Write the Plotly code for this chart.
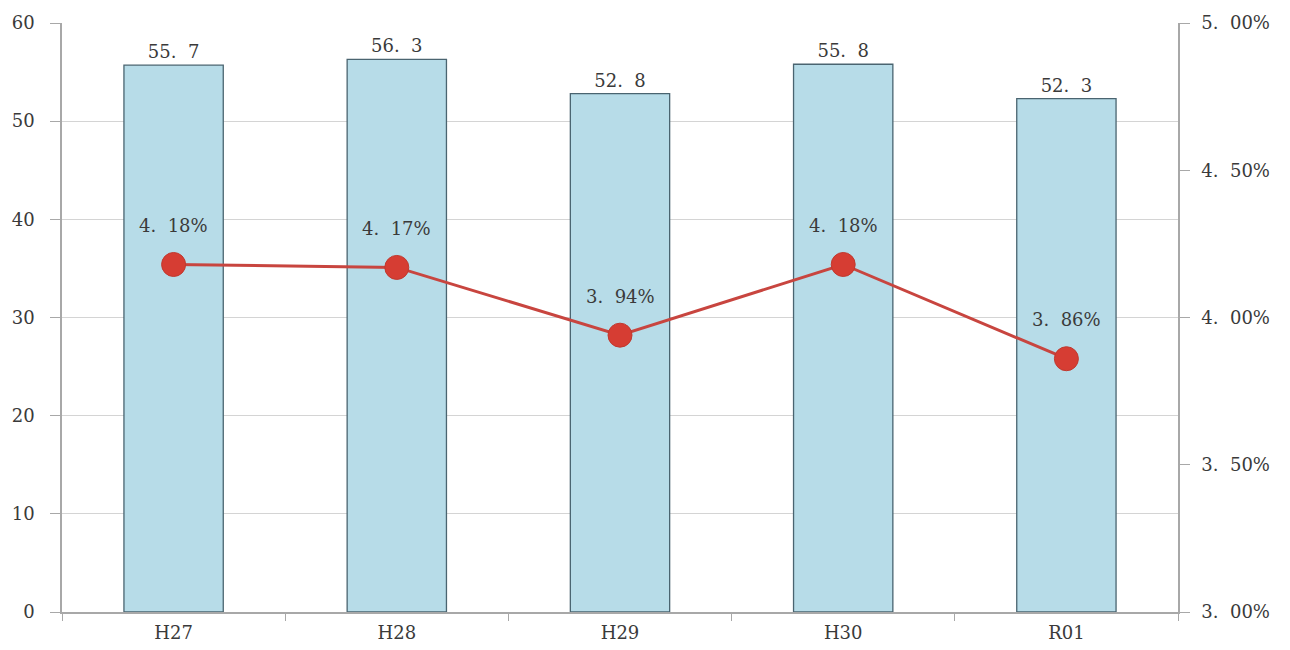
import plotly.graph_objects as go

# Fiscal years and the two series plotted against them
years = ["H27", "H28", "H29", "H30", "R01"]
amounts = [55.7, 56.3, 52.8, 55.8, 52.3]          # left axis, bars
rates = [4.18, 4.17, 3.94, 4.18, 3.86]            # right axis, percent line

left_ticks = [0, 10, 20, 30, 40, 50, 60]
right_ticks = [3.0, 3.5, 4.0, 4.5, 5.0]

FONT = "DejaVu Serif, Liberation Serif, serif"
TEXT_COLOR = "#3a3a3a"
GRID = "#d4d4d4"
AXIS = "#a8a8a8"
FS = 18


def jp_num(v, digits):
    """Format a number with a wide gap after the decimal point, e.g. 55.7 -> '55.\u20077'."""
    return f"{v:.{digits}f}".replace(".", ".\u2007")


fig = go.Figure()

fig.add_trace(go.Bar(
    x=years,
    y=amounts,
    width=0.445,
    marker=dict(color="#b7dce8", line=dict(color="#4a6470", width=1.3)),
    text=[jp_num(v, 1) for v in amounts],
    textposition="outside",
    textfont=dict(family=FONT, size=FS, color=TEXT_COLOR),
    cliponaxis=False,
    yaxis="y",
    hoverinfo="skip",
))

fig.add_trace(go.Scatter(
    x=years,
    y=rates,
    mode="lines+markers",
    line=dict(color="#c8453f", width=3),
    marker=dict(color="#d63d33", size=24, line=dict(color="#c0392f", width=1)),
    yaxis="y2",
    hoverinfo="skip",
))

# Percent labels sit above each marker
for yr, r in zip(years, rates):
    fig.add_annotation(
        x=yr, y=r, xref="x", yref="y2",
        text=jp_num(r, 2) + "%",
        showarrow=False, yshift=39,
        font=dict(family=FONT, size=FS, color=TEXT_COLOR),
    )

fig.update_layout(
    width=1290, height=650,
    margin=dict(l=62, r=112, t=23, b=38, autoexpand=False),
    paper_bgcolor="white",
    plot_bgcolor="white",
    showlegend=False,
    xaxis=dict(
        type="category",
        tickson="boundaries",
        ticks="outside", ticklen=7, tickcolor=AXIS,
        showline=True, linecolor=AXIS, linewidth=1.5,
        showgrid=False,
        automargin=False,
        ticklabelstandoff=4,
        tickfont=dict(family=FONT, size=FS, color=TEXT_COLOR),
        range=[-0.5, 4.5],
    ),
    yaxis=dict(
        range=[0, 60],
        tickvals=left_ticks,
        ticks="outside", ticklen=10, tickcolor=AXIS,
        showline=True, linecolor=AXIS, linewidth=1.5,
        showgrid=True, gridcolor=GRID, gridwidth=1,
        zeroline=False,
        automargin=False,
        ticklabelstandoff=12,
        tickfont=dict(family=FONT, size=FS, color=TEXT_COLOR),
    ),
    yaxis2=dict(
        range=[3.0, 5.0],
        overlaying="y", side="right",
        tickvals=right_ticks,
        ticktext=[jp_num(v, 2) + "%" for v in right_ticks],
        ticks="outside", ticklen=10, tickcolor=AXIS,
        showline=True, linecolor=AXIS, linewidth=1.5,
        showgrid=False, zeroline=False,
        automargin=False,
        ticklabelstandoff=8,
        tickfont=dict(family=FONT, size=FS, color=TEXT_COLOR),
    ),
)

fig.write_html("out.html")
